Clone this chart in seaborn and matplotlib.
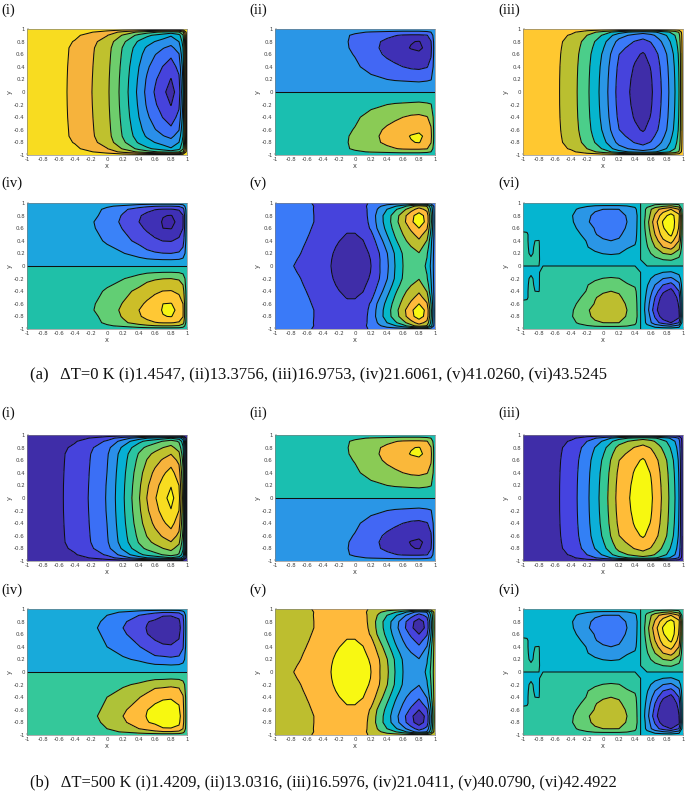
import numpy as np
import matplotlib
matplotlib.use("Agg")
import matplotlib.pyplot as plt
import seaborn as sns

sns.set_theme(style="ticks")
plt.rcParams['font.family'] = ['DejaVu Sans']

TICKS = [-1, -0.8, -0.6, -0.4, -0.2, 0, 0.2, 0.4, 0.6, 0.8, 1]
TICK_LABELS = ['-1', '-0.8', '-0.6', '-0.4', '-0.2', '0', '0.2', '0.4', '0.6', '0.8', '1']
X_NODES = [-1, -.8, -.6, -.4, -.2, 0, .2, .4, .5, .6, .7, .8, .9, .95, 1]
Y_NODES = [1, .95, .9, .8, .7, .6, .4, .2, 0]
X_NODES_V = [-1, -.8, -.7, -.6, -.5, -.4, -.3, -.2, -.1, 0, .1, .2, .3, .4, .5, .6, .7, .8, .9, .95, 1]
Y_NODES_V = [1, .95, .9, .8, .7, .6, .5, .4, .3, .2, .1, 0]
X_NODES_VI = [-1, -.95, -.9, -.85, -.8, -.75, -.4, -.3, -.2, -.1, 0, .1, .2, .3, .4, .47, .55, .65, .75, .85, .95, 1]
Y_NODES_VI = [1, .9, .8, .7, .6, .5, .4, .3, .2, .1, 0]

FIELD_I = [
    [9.6]*15,
    [9.6, 9.58, 9.5, 9.35, 9.05, 8.6, 7.7, 6.8, 6.4, 6.1, 5.8, 5.5, 5.9, 6.8, 9.6],
    [9.6, 9.55, 9.4, 9.15, 8.7, 8.05, 6.9, 5.7, 5.2, 4.85, 4.5, 4.1, 4.66, 5.9, 9.6],
    [9.6, 9.52, 9.28, 8.95, 8.3, 7.55, 6.2, 4.85, 4.36, 3.98, 3.64, 3.39, 4.01, 5.34, 9.6],
    [9.6, 9.51, 9.23, 8.86, 8.17, 7.39, 5.92, 4.47, 3.87, 3.44, 3.05, 2.76, 3.44, 5.01, 9.6],
    [9.6, 9.51, 9.22, 8.85, 8.14, 7.34, 5.84, 4.29, 3.6, 3.05, 2.63, 2.22, 2.96, 4.78, 9.6],
    [9.6, 9.5, 9.21, 8.82, 8.1, 7.27, 5.72, 4.0, 3.18, 2.52, 1.96, 1.5, 2.31, 4.39, 9.6],
    [9.6, 9.5, 9.2, 8.81, 8.07, 7.22, 5.64, 3.82, 2.87, 2.13, 1.49, .96, 1.82, 4.17, 9.6],
    [9.6, 9.5, 9.2, 8.8, 8.05, 7.2, 5.6, 3.7, 2.7, 1.9, 1.2, .6, 1.5, 4.0, 9.6],
]
FIELD_II = [
    [3.6]*15,
    [3.6, 3.6, 3.6, 3.55, 3.4, 3.1, 2.95, 2.85, 2.8, 2.75, 2.75, 2.75, 2.85, 3.0, 3.6],
    [3.6, 3.6, 3.6, 3.5, 3.2, 2.9, 2.5, 2.2, 2.05, 1.9, 1.85, 1.85, 1.95, 2.5, 3.6],
    [3.6, 3.6, 3.6, 3.55, 3.2, 2.85, 2.3, 1.8, 1.55, 1.3, 1.05, .95, 1.4, 1.95, 3.6],
    [3.6, 3.6, 3.6, 3.55, 3.25, 2.85, 2.25, 1.75, 1.45, 1.2, .95, .8, 1.25, 1.8, 3.6],
    [3.6, 3.6, 3.6, 3.6, 3.3, 2.95, 2.35, 1.85, 1.65, 1.45, 1.25, 1.2, 1.45, 1.9, 3.6],
    [3.6, 3.6, 3.6, 3.6, 3.6, 3.15, 2.7, 2.3, 2.15, 2.0, 1.85, 1.8, 1.95, 2.3, 3.6],
    [3.7, 3.7, 3.7, 3.7, 3.7, 3.5, 3.2, 3.0, 2.9, 2.85, 2.8, 2.75, 2.85, 2.95, 3.6],
    [4.0]*15,
]
FIELD_III = [
    [7.6]*15,
    [7.6, 7.56, 7.45, 7.2, 6.5, 5.6, 4.4, 3.7, 3.42, 3.68, 4.18, 4.76, 5.51, 6.09, 7.6],
    [7.6, 7.54, 7.38, 6.9, 6.0, 4.9, 3.4, 2.68, 2.42, 2.74, 3.35, 4.07, 5.01, 5.73, 7.6],
    [7.6, 7.52, 7.27, 6.7, 5.63, 4.32, 2.68, 1.94, 1.7, 2.06, 2.76, 3.58, 4.65, 5.47, 7.6],
    [7.6, 7.51, 7.25, 6.63, 5.49, 4.08, 2.32, 1.53, 1.26, 1.66, 2.41, 3.29, 4.43, 5.31, 7.6],
    [7.6, 7.51, 7.23, 6.58, 5.37, 3.88, 2.02, 1.18, .9, 1.32, 2.11, 3.04, 4.25, 5.18, 7.6],
    [7.6, 7.5, 7.21, 6.53, 5.27, 3.72, 1.78, .91, .62, 1.05, 1.88, 2.85, 4.11, 5.08, 7.6],
    [7.6, 7.5, 7.2, 6.51, 5.22, 3.64, 1.66, .77, .47, .92, 1.76, 2.75, 4.04, 5.03, 7.6],
    [7.6, 7.5, 7.2, 6.5, 5.2, 3.6, 1.6, .7, .4, .85, 1.7, 2.7, 4.0, 5.0, 7.6],
]
FIELD_IV_A = [
    [4.6]*15,
    [4.6, 4.6, 4.6, 4.55, 4.45, 4.1, 3.85, 3.4, 3.2, 3.05, 3.0, 3.0, 3.1, 3.5, 4.6],
    [4.6, 4.6, 4.6, 4.55, 4.3, 3.85, 3.2, 2.55, 2.25, 2.05, 1.95, 1.95, 2.1, 2.6, 4.6],
    [4.6, 4.6, 4.6, 4.5, 4.25, 3.7, 2.9, 2.1, 1.75, 1.4, 1.05, .95, 1.4, 1.95, 4.6],
    [4.6, 4.6, 4.6, 4.5, 4.1, 3.55, 2.8, 2.0, 1.75, 1.45, .9, .7, 1.3, 1.9, 4.6],
    [4.6, 4.6, 4.6, 4.55, 4.15, 3.6, 2.95, 2.2, 1.85, 1.55, 1.0, .95, 1.45, 2.0, 4.6],
    [4.6, 4.6, 4.6, 4.6, 4.4, 3.85, 3.3, 2.75, 2.4, 2.15, 1.98, 1.95, 2.2, 2.6, 4.6],
    [4.7, 4.7, 4.7, 4.7, 4.7, 4.4, 4.05, 3.55, 3.25, 3.1, 3.02, 3.0, 3.1, 3.4, 4.6],
    [5.0]*15,
]
FIELD_IV_B = [
    [3.6]*15,
    [3.6, 3.6, 3.6, 3.55, 3.5, 3.15, 2.95, 2.6, 2.4, 2.25, 2.1, 2.1, 2.25, 2.7, 3.6],
    [3.6, 3.6, 3.6, 3.55, 3.4, 3.0, 2.5, 2.0, 1.75, 1.4, 1.05, 1.05, 1.2, 2.0, 3.6],
    [3.6, 3.6, 3.6, 3.5, 3.3, 2.8, 2.15, 1.5, 1.05, .85, .7, .6, .85, 1.7, 3.6],
    [3.6, 3.6, 3.6, 3.5, 3.2, 2.7, 2.0, 1.35, .95, .7, .55, .5, .7, 1.6, 3.6],
    [3.6, 3.6, 3.6, 3.55, 3.3, 2.8, 2.15, 1.5, 1.02, .82, .72, .68, .88, 1.7, 3.6],
    [3.6, 3.6, 3.6, 3.6, 3.6, 3.0, 2.5, 2.05, 1.7, 1.2, 1.08, 1.06, 1.2, 1.9, 3.6],
    [3.7, 3.7, 3.7, 3.7, 3.7, 3.45, 3.15, 2.85, 2.6, 2.35, 2.3, 2.2, 2.3, 2.6, 3.6],
    [4.0]*15,
]
FIELD_V = [
    [2.5, 2.42, 2.22, 2.07, 1.95, 1.9, 1.9, 1.9, 1.88, 1.88, 1.92, 2.05, 2.4, 2.5, 2.5, 2.5, 2.5, 2.5, 2.5, 2.5, 2.4],
    [2.5, 2.42, 2.25, 2.1, 1.98, 1.88, 1.8, 1.72, 1.7, 1.72, 1.85, 2.2, 2.85, 3.4, 3.9, 4.6, 5.6, 6.5, 5.9, 4.4, 2.4],
    [2.5, 2.42, 2.28, 2.12, 1.97, 1.82, 1.68, 1.58, 1.5, 1.55, 1.75, 2.25, 3.2, 4.0, 4.8, 5.65, 6.6, 7.4, 6.7, 4.8, 2.4],
    [2.5, 2.42, 2.3, 2.12, 1.98, 1.77, 1.58, 1.42, 1.3, 1.3, 1.6, 2.35, 3.5, 4.5, 5.5, 6.55, 7.7, 8.5, 7.6, 5.2, 2.4],
    [2.5, 2.42, 2.3, 2.12, 1.98, 1.75, 1.55, 1.38, 1.25, 1.25, 1.5, 2.3, 3.45, 4.5, 5.6, 6.65, 7.8, 8.6, 7.7, 5.3, 2.4],
    [2.5, 2.42, 2.28, 2.1, 1.92, 1.7, 1.48, 1.28, 1.12, 1.12, 1.35, 2.15, 3.3, 4.3, 5.4, 6.3, 7.2, 8.0, 7.1, 5.0, 2.4],
    [2.5, 2.4, 2.25, 2.05, 1.85, 1.62, 1.38, 1.15, .97, .97, 1.15, 1.75, 2.9, 4.0, 5.1, 6.0, 6.7, 7.4, 6.5, 4.7, 2.4],
    [2.5, 2.35, 2.2, 1.98, 1.78, 1.53, 1.28, 1.02, .8, .8, .98, 1.45, 2.5, 3.6, 4.8, 5.7, 6.4, 6.85, 5.95, 4.3, 2.4],
    [2.5, 2.3, 2.12, 1.9, 1.7, 1.45, 1.17, .88, .68, .68, .85, 1.25, 2.2, 3.25, 4.4, 5.4, 5.95, 6.4, 5.5, 4.15, 2.4],
    [2.5, 2.25, 2.05, 1.82, 1.65, 1.4, 1.07, .8, .6, .6, .75, 1.1, 1.95, 2.95, 4.1, 5.1, 5.55, 5.95, 5.1, 4.0, 2.4],
    [2.5, 2.15, 1.95, 1.78, 1.62, 1.37, 1.02, .77, .57, .57, .72, 1.02, 1.88, 2.85, 4.05, 5.03, 5.45, 5.7, 4.95, 3.9, 2.4],
    [2.5, 2.05, 1.9, 1.75, 1.6, 1.35, 1.0, .75, .55, .55, .7, 1.0, 1.9, 2.8, 4.0, 5.0, 5.4, 5.5, 4.85, 3.8, 2.4],
]
FIELD_VI = [
    [4.7, 4.7, 4.7, 4.7, 4.7, 4.7, 4.7, 4.7, 4.7, 4.7, 4.7, 4.7, 4.7, 4.7, 4.7, 5, 5.3, 5.4, 5.4, 5.4, 5.3, 5.2],
    [4.7, 4.7, 4.7, 4.7, 4.7, 4.7, 4.3, 3.85, 3.45, 3.1, 3.0, 2.98, 3.0, 3.2, 3.7, 5, 6.3, 7.6, 8.4, 9.0, 8.0, 5.2],
    [4.7, 4.7, 4.7, 4.7, 4.7, 4.6, 4.1, 3.6, 3.15, 2.85, 2.75, 2.7, 2.75, 3.05, 3.4, 5, 6.4, 8.1, 9.6, 10.4, 9.3, 5.2],
    [4.7, 4.7, 4.7, 4.7, 4.7, 4.6, 4.15, 3.65, 3.1, 2.75, 2.6, 2.55, 2.6, 3.0, 3.45, 5, 6.6, 8.6, 10.1, 10.8, 9.0, 5.2],
    [4.8, 4.8, 4.7, 4.7, 4.7, 4.6, 4.3, 3.85, 3.35, 2.95, 2.65, 2.55, 2.65, 3.1, 3.5, 5, 6.5, 8.3, 9.9, 10.7, 8.9, 5.2],
    [5.15, 5.1, 4.7, 4.7, 4.7, 4.6, 4.5, 4.1, 3.65, 3.05, 2.8, 2.7, 2.85, 3.3, 3.6, 5, 6.3, 8.0, 9.5, 10.2, 8.6, 5.2],
    [5.15, 5.1, 4.7, 5.0, 5.02, 4.6, 4.6, 4.3, 3.95, 3.5, 3.1, 3.0, 3.1, 3.5, 3.75, 5, 6.1, 7.5, 8.8, 9.4, 8.0, 5.2],
    [5.15, 5.1, 4.8, 5.1, 5.05, 4.6, 4.75, 4.55, 4.05, 3.7, 3.55, 3.45, 3.5, 3.9, 4.15, 5, 5.9, 7.0, 8.0, 8.4, 7.3, 5.2],
    [5.15, 5.1, 4.9, 5.1, 5.05, 4.6, 4.85, 4.7, 4.55, 4.15, 3.97, 3.9, 3.97, 4.3, 4.55, 5, 5.65, 6.4, 7.0, 7.2, 6.5, 5.2],
    [5.15, 5.1, 5.1, 5.1, 5.05, 4.7, 4.9, 4.85, 4.8, 4.6, 4.5, 4.45, 4.5, 4.65, 4.75, 5, 5.35, 5.7, 6.0, 6.1, 5.7, 5.2],
    [5.0]*22,
]

# colour bands of each panel, from low to high
DARK, INDIGO, BLUE, LBLUE = '#3F2DA8', '#4643DC', '#3A7AF8', '#2A96E6'
PAL_I_A = [DARK, INDIGO, '#3B6FF5', '#2A8FEA', '#06B0D4', '#2BC4A2', '#6ECD6C', '#BFC12E', '#F6B33C', '#F8DC20']
PAL_I_B = [DARK, INDIGO, '#3B6FF5', '#2A8FEA', '#06B0D4', '#2BC4A2', '#6ECD6C', '#BFC12E', '#F6B33C', '#F8DC20', '#F8F812']
PAL_II = ['#3E26A8', '#3F30B5', '#4267F4', LBLUE, '#1ABFB0', '#8ACB55', '#FAB83A', '#F5F514']
PAL_III_A = [DARK, INDIGO, BLUE, LBLUE, '#06B5CE', '#4BCE8A', '#BABF30', '#FFC830']
PAL_III_B = [DARK, '#4543E0', '#3380F5', '#0CAFD8', '#35C896', '#ADC236', '#FFBC38', '#F7F810']
PAL_IV_A = ['#3E26A8', '#3F30B5', '#4B4BE0', '#3A82F8', '#1CA5DE', '#1FC0A8', '#62CE74', '#CCBE28', '#FFC834', '#F6F514']
PAL_IV_B = [DARK, '#4A4AE0', '#3080F8', '#18AADA', '#34C89A', '#AEC238', '#FFBC3A', '#F7F810']
PAL_V = [DARK, INDIGO, BLUE, LBLUE, '#07B8C8', '#4CCC88', '#BDBE2F', '#FFBA3C', '#F8F812']
PAL_VI = [DARK, '#4543E0', '#3A7AF8', '#2A96E6', '#05B5D0', '#2CC4A0', '#62CE74', '#BDBE2F', '#F9B53C', '#F8D828', '#F8F812']

PANEL_LABELS = ['(i)', '(ii)', '(iii)', '(iv)', '(v)', '(vi)']
CAPTION_A = '(a)   ΔT=0 K (i)1.4547, (ii)13.3756, (iii)16.9753, (iv)21.6061, (v)41.0260, (vi)43.5245'
CAPTION_B = '(b)   ΔT=500 K (i)1.4209, (ii)13.0316, (iii)16.5976, (iv)21.0411, (v)40.0790, (vi)42.4922'

W, H = 685, 793
COLS_PX = [27, 275, 523]
ROWS_PX = [29, 203, 435, 609]
AW, AH = 160, 126
LABEL_Y_PX = [10, 183, 413, 590]
LABEL_X_PX = [1, 249, 498]


def full(top, x_nodes, y_nodes, centre=None):
    """Complete a field from its upper half: mirrored, or antisymmetric about centre."""
    top = np.array(top, dtype=float)
    lower = top[:-1] if centre is None else 2 * centre - top[:-1]
    upper = top[::-1]
    z = np.vstack([lower, upper])
    ys = np.array(y_nodes, dtype=float)
    return np.array(x_nodes), np.concatenate([-ys[:-1], ys[::-1]]), z


def panel(ax, xs, ys, z, colors):
    n = len(colors)
    pal = sns.color_palette(colors, n_colors=n)
    levels = np.arange(0, n + 1)
    clipped = np.clip(z, 0.001, n - 0.001)
    ax.contourf(xs, ys, clipped, levels=levels, colors=pal)
    ax.contour(xs, ys, clipped, levels=levels[1:-1], colors='#101010', linewidths=0.75)
    ax.set_xlim(-1, 1)
    ax.set_ylim(-1, 1)
    ax.set_xticks(TICKS, TICK_LABELS)
    ax.set_yticks(TICKS, TICK_LABELS)
    ax.tick_params(direction='in', length=1.3, width=0.35, labelsize=3.9, pad=1.6,
                   colors='#404040')
    ax.set_xlabel('x', fontsize=4.8, color='#404040', labelpad=0.6)
    ax.set_ylabel('y', fontsize=4.8, color='#404040', labelpad=0.8)
    for s in ax.spines.values():
        s.set_linewidth(0.45)
        s.set_color('#808080')


x, y, z_i = full(FIELD_I, X_NODES, Y_NODES)
x, y, z_ii = full(FIELD_II, X_NODES, Y_NODES, 4.0)
x, y, z_iii = full(FIELD_III, X_NODES, Y_NODES)
x, y, z_iva = full(FIELD_IV_A, X_NODES, Y_NODES, 5.0)
x, y, z_ivb = full(FIELD_IV_B, X_NODES, Y_NODES, 4.0)
x5, y5, z_v = full(FIELD_V, X_NODES_V, Y_NODES_V)
x6, y6, z_vi = full(FIELD_VI, X_NODES_VI, Y_NODES_VI, 5.0)

PANELS = [
    [(x, y, z_i, PAL_I_A), (x, y, z_ii, PAL_II), (x, y, z_iii, PAL_III_A)],
    [(x, y, z_iva, PAL_IV_A), (x5, y5, z_v, PAL_V), (x6, y6, z_vi, PAL_VI)],
    [(x, y, (10 - z_i) * 1.1, PAL_I_B), (x, y, z_ii[::-1], PAL_II), (x, y, 8 - z_iii, PAL_III_B)],
    [(x, y, z_ivb, PAL_IV_B), (x5, y5, 9 - z_v, PAL_V), (x6, y6, z_vi, PAL_VI)],
]

fig = plt.figure(figsize=(W / 100, H / 100), dpi=100, facecolor='white')
serif = ['Liberation Serif', 'DejaVu Serif']
for r, row in enumerate(PANELS):
    for c, (xs, ys, z, colors) in enumerate(row):
        ax = fig.add_axes([COLS_PX[c] / W, 1 - (ROWS_PX[r] + AH) / H, AW / W, AH / H])
        panel(ax, xs, ys, z, colors)
        fig.text(LABEL_X_PX[c] / W, 1 - LABEL_Y_PX[r] / H, PANEL_LABELS[(r % 2) * 3 + c],
                 family=serif, fontsize=10.5, va='center', ha='left', color='#111111')
fig.text(30 / W, 1 - 375 / H, CAPTION_A, family=serif, fontsize=11.95, va='center', ha='left', color='#111111')
fig.text(30 / W, 1 - 782 / H, CAPTION_B, family=serif, fontsize=11.85, va='center', ha='left', color='#111111')
fig.savefig('out.png', dpi=100)
